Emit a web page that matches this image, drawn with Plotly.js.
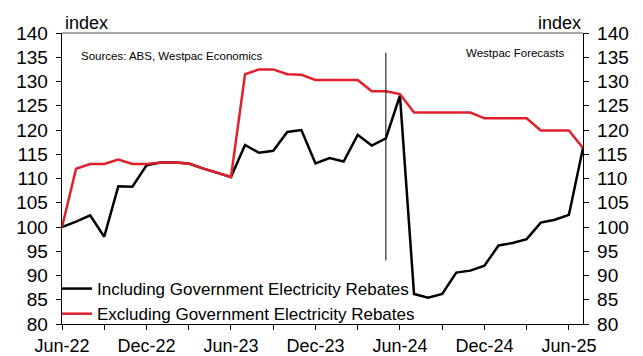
<!DOCTYPE html>
<html>
<head>
<meta charset="utf-8">
<script src="https://cdn.plot.ly/plotly-3.0.1.min.js"></script>
<style>html,body{margin:0;padding:0;background:#fff;}#chart{width:643px;height:356px;}</style>
</head>
<body>
<div id="chart"></div>
<script>
// Monthly categories, Jun-22 .. Jul-25
const months = ['Jun-22','Jul-22','Aug-22','Sep-22','Oct-22','Nov-22','Dec-22',
  'Jan-23','Feb-23','Mar-23','Apr-23','May-23','Jun-23','Jul-23','Aug-23','Sep-23','Oct-23','Nov-23','Dec-23',
  'Jan-24','Feb-24','Mar-24','Apr-24','May-24','Jun-24','Jul-24','Aug-24','Sep-24','Oct-24','Nov-24','Dec-24',
  'Jan-25','Feb-25','Mar-25','Apr-25','May-25','Jun-25','Jul-25'];

const includingRebates = [100.0,101.1,102.4,98.0,108.4,108.3,112.7,
  113.3,113.3,113.1,112.1,111.2,110.3,116.9,115.3,115.7,119.6,120.0,113.1,
  114.2,113.5,119.0,116.8,118.3,127.1,86.2,85.4,86.2,90.6,91.0,92.0,
  96.2,96.7,97.5,100.9,101.5,102.5,116.3];

const excludingRebates = [100.0,112.0,113.0,113.0,113.9,113.0,113.0,
  113.3,113.3,113.1,112.1,111.2,110.3,131.5,132.5,132.5,131.5,131.4,130.3,
  130.3,130.3,130.3,128.0,128.0,127.4,123.6,123.6,123.6,123.6,123.6,122.4,
  122.4,122.4,122.4,119.9,119.9,119.9,116.3];

// Quarterly tick positions; labels every half-year
const tickMonths = ['Jun-22','Sep-22','Dec-22','Mar-23','Jun-23','Sep-23','Dec-23','Mar-24','Jun-24','Sep-24','Dec-24','Mar-25','Jun-25'];
const tickLabels = ['Jun-22','','Dec-22','','Jun-23','','Dec-23','','Jun-24','','Dec-24','','Jun-25'];

const yTicks = [80,85,90,95,100,105,110,115,120,125,130,135,140];

// Forecast marker
const forecastMonth = 'May-24';
const forecastLineRange = [93.1, 135.9];

const seriesNames = ['Including Government Electricity Rebates','Excluding Government Electricity Rebates'];

const FONT = 'Liberation Sans, Arial, sans-serif';
const RED = '#e0202b';

const traces = [
  {x: months, y: includingRebates, type: 'scatter', mode: 'lines', name: seriesNames[0],
   line: {color: '#000000', width: 2.5}},
  {x: months, y: excludingRebates, type: 'scatter', mode: 'lines', name: seriesNames[1],
   line: {color: RED, width: 2.5}},
  // same series on the mirrored right axis, invisible, so the right axis is drawn
  {x: months, y: excludingRebates, type: 'scatter', mode: 'lines', yaxis: 'y2', showlegend: false,
   hoverinfo: 'skip', opacity: 0, line: {color: RED, width: 0}}
];

const yCommon = {
  range: [80, 140], autorange: false, tickvals: yTicks, ticktext: yTicks.map(String),
  showgrid: false, zeroline: false, showline: true, linecolor: '#000', linewidth: 1.3,
  ticks: 'outside', ticklen: 5, tickcolor: '#000', tickwidth: 1,
  tickfont: {family: FONT, size: 19, color: '#000'}, ticklabelstandoff: 4, fixedrange: true
};

const layout = {
  width: 643, height: 356,
  margin: {l: 62, r: 60, t: 33, b: 32, pad: 0},
  paper_bgcolor: '#fff', plot_bgcolor: '#fff',
  font: {family: FONT, color: '#000'},
  showlegend: true,
  legend: {x: -0.0096, y: 0.182, xanchor: 'left', yanchor: 'top', bgcolor: 'rgba(0,0,0,0)',
           font: {family: FONT, size: 17, color: '#000'}, borderwidth: 0, tracegroupgap: 0},
  xaxis: {
    type: 'category', categoryorder: 'array', categoryarray: months,
    range: [0, months.length - 1], autorange: false,
    tickvals: tickMonths, ticktext: tickLabels,
    showgrid: false, zeroline: false, showline: true, linecolor: '#000', linewidth: 1.3,
    ticks: 'outside', ticklen: 5, tickcolor: '#000', tickwidth: 1,
    tickfont: {family: FONT, size: 18, color: '#000'}, ticklabelstandoff: 0, fixedrange: true
  },
  yaxis: Object.assign({}, yCommon, {side: 'left'}),
  yaxis2: Object.assign({}, yCommon, {side: 'right', overlaying: 'y', anchor: 'x'}),
  shapes: [
    {type: 'line', xref: 'paper', yref: 'paper', x0: 0, x1: 1, y0: 1, y1: 1,
     line: {color: '#8c8c8c', width: 1.5}},
    {type: 'line', xref: 'x', yref: 'y', x0: forecastMonth, x1: forecastMonth,
     y0: forecastLineRange[0], y1: forecastLineRange[1], line: {color: '#000', width: 1}}
  ],
  annotations: [
    {text: 'index', xref: 'paper', yref: 'paper', x: 0, y: 1, xanchor: 'left', yanchor: 'bottom',
     xshift: 1, yshift: -2, showarrow: false, font: {family: FONT, size: 18, color: '#000'}},
    {text: 'index', xref: 'paper', yref: 'paper', x: 1, y: 1, xanchor: 'right', yanchor: 'bottom',
     xshift: 0, yshift: -2, showarrow: false, font: {family: FONT, size: 18, color: '#000'}},
    {text: 'Sources: ABS, Westpac Economics', xref: 'paper', yref: 'paper', x: 0.0326, y: 0.921,
     xanchor: 'left', yanchor: 'middle', showarrow: false, font: {family: FONT, size: 11.5, color: '#000'}},
    {text: 'Westpac Forecasts', xref: 'paper', yref: 'paper', x: 0.9668, y: 0.930,
     xanchor: 'right', yanchor: 'middle', showarrow: false, font: {family: FONT, size: 11.5, color: '#000'}}
  ]
};

Plotly.newPlot('chart', traces, layout, {staticPlot: true, displayModeBar: false});
</script>
</body>
</html>
